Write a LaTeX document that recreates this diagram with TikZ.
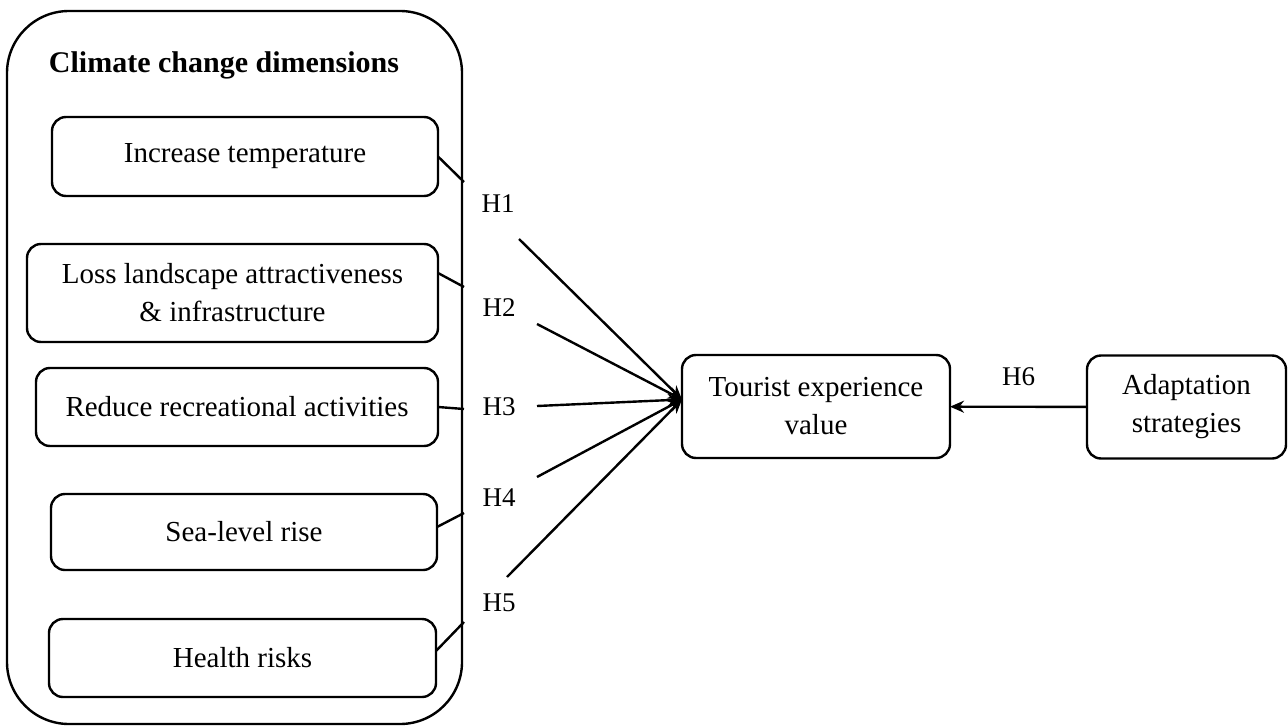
\documentclass[tikz,border=0pt]{standalone}
\usepackage{fontspec}
\setmainfont{Liberation Serif}
\usetikzlibrary{arrows.meta}
\begin{document}
\begin{tikzpicture}[x=0.5pt, y=-0.5pt, line width=1.2pt,
  box/.style={draw, rounded corners=7pt, align=center, inner sep=0pt, outer sep=0pt,
    font=\fontsize{14.5}{19}\selectfont},
  hlab/.style={font=\fontsize{13.5}{16}\selectfont},
  >={Stealth[length=7pt, width=6pt]}]
  \useasboundingbox (0,0) rectangle (1288,727);

  % Nodes
  \draw (234.5,367.5) node(ccd) [draw, rounded corners=31pt, minimum width=227.5pt, minimum height=356.5pt, inner sep=0pt, outer sep=0pt] {};
  \draw (224,65) node(ttl) [font=\fontsize{15}{19}\selectfont\bfseries] {Climate change dimensions};

  \draw (245,156.5) node(inc) [box, minimum width=193pt, minimum height=39.5pt] {Increase temperature};
  \draw (232.5,293) node(loss) [box, minimum width=205.5pt, minimum height=49pt] {Loss landscape attractiveness\\ \& infrastructure};
  \draw (237,407) node(red) [box, minimum width=201pt, minimum height=39pt] {Reduce recreational activities};
  \draw (244,532) node(sea) [box, minimum width=193pt, minimum height=38pt] {Sea-level rise};
  \draw (242.5,658) node(hlt) [box, minimum width=193.5pt, minimum height=39pt] {Health risks};

  \draw (816,406.5) node(tev) [box, minimum width=134pt, minimum height=51.5pt] {Tourist experience\\ value};
  \draw (1186.5,407) node(ada) [box, minimum width=99.5pt, minimum height=51.5pt] {Adaptation\\ strategies};

  % Labels
  \draw (498,204) node(h1) [hlab] {H1};
  \draw (499,308) node(h2) [hlab] {H2};
  \draw (499,407) node(h3) [hlab] {H3};
  \draw (499,498) node(h4) [hlab] {H4};
  \draw (499,603) node(h5) [hlab] {H5};

  % Edges
  \coordinate (tip) at ([yshift=3.5pt]tev.west);
  \coordinate (a1) at (464,182);
  \coordinate (a2) at (464,287);
  \coordinate (a3) at (464,409);
  \coordinate (a4) at (464,513);
  \coordinate (a5) at (464,622);
  \coordinate (b1) at (519,239);
  \coordinate (b2) at (537,324);
  \coordinate (b3) at (537,406);
  \coordinate (b4) at (537,477);
  \coordinate (b5) at (507,577);

  \draw (inc.east) -- (a1);
  \draw ([yshift=10pt]loss.east) -- (a2);
  \draw (red.east) -- (a3);
  \draw ([yshift=2.5pt]sea.east) -- (a4);
  \draw ([yshift=3.5pt]hlt.east) -- (a5);

  \draw[->] (b1) -- (tip);
  \draw[->] (b2) -- (tip);
  \draw[->] (b3) -- (tip);
  \draw[->] (b4) -- (tip);
  \draw[->] (b5) -- (tip);

  \path[->] (ada) edge node[hlab, yshift=15pt] {H6} (tev);

\end{tikzpicture}
\end{document}
